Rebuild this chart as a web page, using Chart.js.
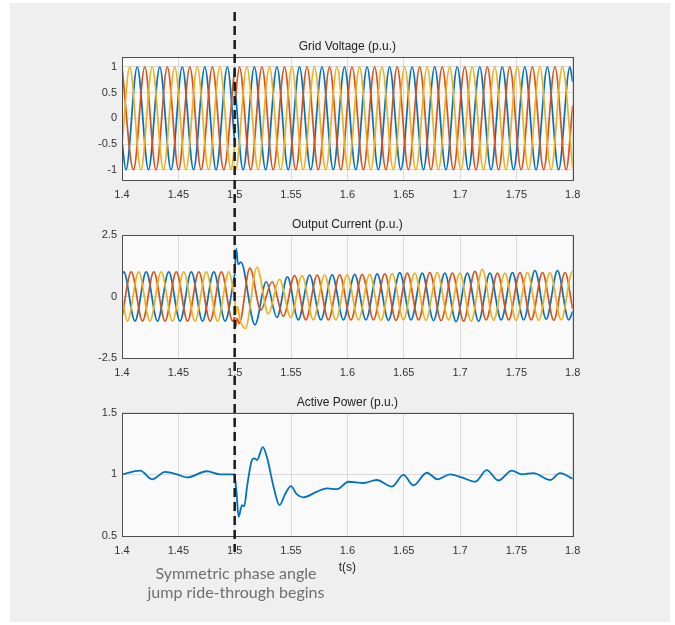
<!DOCTYPE html>
<html>
<head>
<meta charset="utf-8">
<script src="https://cdn.jsdelivr.net/npm/chart.js@4.4.1/dist/chart.umd.min.js"></script>
<style>
  html, body { margin: 0; padding: 0; background: #fff; }
  #frame { position: relative; width: 675px; height: 625px; overflow: hidden; }
  #panel { position: absolute; left: 10px; top: 3px; width: 660px; height: 619px; background: #efefef; }
  .plot { position: absolute; left: 0; width: 675px; }
  #note {
    position: absolute; left: 126px; width: 220px; top: 563px;
    text-align: center; font: 16px Lato, "Noto Sans", sans-serif;
    color: #6f6f6f; line-height: 19px;
  }
</style>
</head>
<body>
<div id="frame">
  <div id="panel"></div>
  <div class="plot" style="top:0;height:205px"><canvas id="voltage"></canvas></div>
  <div class="plot" style="top:205px;height:180px"><canvas id="current"></canvas></div>
  <div class="plot" style="top:385px;height:200px"><canvas id="power"></canvas></div>
  <div id="note">Symmetric phase angle<br>jump ride-through begins</div>
</div>
<script>
/* ============================================================
   Phase angle jump ride-through — three stacked panels
   ============================================================ */

// ── Axes ────────────────────────────────────────────────────

const xTicks = [1.4, 1.45, 1.5, 1.55, 1.6, 1.65, 1.7, 1.75, 1.8];
const voltageTicks = [-1, -0.5, 0, 0.5, 1];
const currentTicks = [-2.5, 0, 2.5];
const powerTicks = [0.5, 1, 1.5];
const jumpTime = 1.5;

// ── Grid voltage: turning points of each phase (s, p.u.) ────

const vBluePreT = [1.4, 1.4035, 1.4135, 1.4235, 1.4335, 1.4435, 1.4535, 1.4635, 1.4735, 1.4835, 1.4935, 1.5];
const vBluePreY = [-0.45, -1, 1, -1, 1, -1, 1, -1, 1, -1, 1, -0.45];
const vRedPreT = [1.4, 1.4102, 1.4202, 1.4302, 1.4402, 1.4502, 1.4602, 1.4702, 1.4802, 1.4902, 1.5];
const vRedPreY = [1, -1, 1, -1, 1, -1, 1, -1, 1, -1, 1];
const vYelPreT = [1.4, 1.4068, 1.4168, 1.4268, 1.4368, 1.4468, 1.4568, 1.4668, 1.4768, 1.4868, 1.4968, 1.5];
const vYelPreY = [-0.53, 1, -1, 1, -1, 1, -1, 1, -1, 1, -1, -0.54];

const vBluePostT = [1.5, 1.5075, 1.5175, 1.5275, 1.5375, 1.5475, 1.5575, 1.5675, 1.5775, 1.5875, 1.5975,
  1.6075, 1.6175, 1.6275, 1.6375, 1.6475, 1.6575, 1.6675, 1.6775, 1.6875, 1.6975,
  1.7075, 1.7175, 1.7275, 1.7375, 1.7475, 1.7575, 1.7675, 1.7775, 1.7875, 1.7975, 1.8];
const vBluePostY = [0.71, -1, 1, -1, 1, -1, 1, -1, 1, -1, 1, -1, 1, -1, 1, -1, 1, -1, 1, -1, 1,
  -1, 1, -1, 1, -1, 1, -1, 1, -1, 1, 0.71];
const vRedPostT = [1.5, 1.5042, 1.5142, 1.5242, 1.5342, 1.5442, 1.5542, 1.5642, 1.5742, 1.5842, 1.5942,
  1.6042, 1.6142, 1.6242, 1.6342, 1.6442, 1.6542, 1.6642, 1.6742, 1.6842, 1.6942,
  1.7042, 1.7142, 1.7242, 1.7342, 1.7442, 1.7542, 1.7642, 1.7742, 1.7842, 1.7942, 1.8];
const vRedPostY = [0.25, 1, -1, 1, -1, 1, -1, 1, -1, 1, -1, 1, -1, 1, -1, 1, -1, 1, -1, 1, -1,
  1, -1, 1, -1, 1, -1, 1, -1, 1, -1, 0.25];
const vYelPostT = [1.5, 1.5008, 1.5108, 1.5208, 1.5308, 1.5408, 1.5508, 1.5608, 1.5708, 1.5808, 1.5908,
  1.6008, 1.6108, 1.6208, 1.6308, 1.6408, 1.6508, 1.6608, 1.6708, 1.6808, 1.6908,
  1.7008, 1.7108, 1.7208, 1.7308, 1.7408, 1.7508, 1.7608, 1.7708, 1.7808, 1.7908, 1.8];
const vYelPostY = [-0.97, -1, 1, -1, 1, -1, 1, -1, 1, -1, 1, -1, 1, -1, 1, -1, 1, -1, 1, -1, 1,
  -1, 1, -1, 1, -1, 1, -1, 1, -1, 1, -0.97];

// ── Output current ──────────────────────────────────────────

const cBluePreT = [1.4, 1.4015, 1.4115, 1.4215, 1.4315, 1.4415, 1.4515, 1.4615, 1.4715, 1.4815, 1.4915, 1.5];
const cBluePreY = [0.9, 1, -1, 1, -1, 1, -1, 1, -1, 1, -1, 0.9];
const cRedPreT = [1.4, 1.4082, 1.4182, 1.4282, 1.4382, 1.4482, 1.4582, 1.4682, 1.4782, 1.4882, 1.4982, 1.5];
const cRedPreY = [-0.84, 1, -1, 1, -1, 1, -1, 1, -1, 1, -1, -0.84];
const cYelPreT = [1.4, 1.4048, 1.4148, 1.4248, 1.4348, 1.4448, 1.4548, 1.4648, 1.4748, 1.4848, 1.4948, 1.5];
const cYelPreY = [-0.06, -1, 1, -1, 1, -1, 1, -1, 1, -1, 1, -0.06];

const cBluePostT = [1.5, 1.5015, 1.503, 1.5055, 1.518, 1.528, 1.5375, 1.5468, 1.5565, 1.5665, 1.5765,
  1.5865, 1.5965, 1.6065, 1.6165, 1.6265, 1.6365, 1.6465, 1.6565, 1.6665, 1.6765,
  1.6865, 1.6965, 1.7065, 1.7165, 1.7265, 1.7365, 1.7465, 1.7565, 1.7665, 1.7765, 1.7865, 1.7965, 1.8];
const cBluePostY = [0.89, 1.95, 1.3, 1.4, -1.15, 0.6, -0.85, 0.8, -0.95, 0.87, -0.95,
  0.88, -0.95, 0.9, -0.95, 0.92, -0.97, 0.97, -0.95, 0.95, -0.98,
  0.95, -1.02, 0.95, -1.0, 0.95, -0.95, 0.97, -0.95, 1.05, -0.92, 1.05, -0.95, -0.6];
const cRedPostT = [1.5, 1.5008, 1.5022, 1.504, 1.5135, 1.5232, 1.5332, 1.5432, 1.5532, 1.5632, 1.5732,
  1.5832, 1.5932, 1.6032, 1.6132, 1.6232, 1.6332, 1.6432, 1.6532, 1.6632, 1.6732,
  1.6832, 1.6932, 1.7032, 1.7132, 1.7232, 1.7332, 1.7432, 1.7532, 1.7632, 1.7732, 1.7832, 1.7932, 1.8];
const cRedPostY = [-0.84, -1.25, -0.9, -1.1, 1.15, -0.55, 0.6, -0.8, 0.85, -0.95, 0.87,
  -0.95, 0.88, -0.95, 0.9, -0.95, 0.92, -0.97, 0.95, -0.95, 0.97,
  -0.98, 0.95, -1.0, 1.02, -0.95, 0.95, -0.95, 0.97, -0.95, 0.97, -0.97, 0.97, -0.5];
const cYelPostT = [1.5, 1.501, 1.5025, 1.5045, 1.5095, 1.5198, 1.5298, 1.5398, 1.5498, 1.5598, 1.5698,
  1.5798, 1.5898, 1.5998, 1.6098, 1.6198, 1.6298, 1.6398, 1.6498, 1.6598, 1.6698,
  1.6798, 1.6898, 1.6998, 1.7098, 1.7198, 1.7298, 1.7398, 1.7498, 1.7598, 1.7698, 1.7798, 1.7898, 1.7998, 1.8];
const cYelPostY = [-0.06, -0.7, -0.4, -0.9, -1.3, 1.19, -0.7, 0.7, -0.85, 0.85, -0.95,
  0.87, -0.95, 0.88, -0.95, 0.9, -0.97, 0.93, -0.95, 0.95, -0.97,
  0.97, -0.95, 0.95, -1.0, 1.1, -0.97, 0.95, -0.97, 0.97, -0.97, 0.97, -0.95, 1.02, 1.0];

// ── Active power ────────────────────────────────────────────

const powerT = [1.4, 1.4162, 1.4266, 1.4384, 1.4488, 1.4576, 1.4754, 1.4873, 1.4997, 1.5015, 1.5035,
  1.5065, 1.5085, 1.511, 1.5153, 1.5174, 1.5198, 1.525, 1.5286, 1.5345, 1.5398, 1.5448,
  1.5499, 1.555, 1.5611, 1.573, 1.582, 1.591, 1.601, 1.6143, 1.626, 1.6395, 1.6498,
  1.6587, 1.6705, 1.68, 1.6912, 1.7016, 1.7134, 1.7237, 1.734, 1.7459, 1.755, 1.7651,
  1.7799, 1.7887, 1.8];
const powerY = [1.0, 1.03, 0.96, 1.02, 1.0, 0.975, 1.025, 1.0, 1.0, 0.87, 0.656,
  0.75, 0.74, 0.9, 1.116, 1.13, 1.116, 1.22, 1.14, 0.9, 0.75, 0.84,
  0.905, 0.84, 0.814, 0.86, 0.886, 0.88, 0.94, 0.93, 0.954, 0.9, 0.995,
  0.91, 1.013, 0.96, 1.0, 0.975, 0.94, 1.035, 0.95, 1.03, 1.0, 1.01,
  0.954, 1.01, 0.965];

// ── Style ───────────────────────────────────────────────────

const FONT = '"Liberation Sans", Arial, sans-serif';
const BLUE = "#0072BD";
const RED = "#D95319";
const YELLOW = "#EDB120";
const MARKER_TOP = 12;      // page y where the dashed marker starts
const MARKER_BOTTOM = 552;  // page y where it ends

// ── Plugins ─────────────────────────────────────────────────

const axesBox = {
  id: "axesBox",
  beforeDraw(chart) {
    const { ctx, chartArea: a } = chart;
    ctx.save();
    ctx.fillStyle = "#fafafa";
    ctx.fillRect(a.left, a.top, a.right - a.left, a.bottom - a.top);
    ctx.restore();
  },
  afterDatasetsDraw(chart) {
    const { ctx, chartArea: a } = chart;
    ctx.save();
    ctx.strokeStyle = "#4d4d4d";
    ctx.lineWidth = 1;
    ctx.strokeRect(Math.round(a.left) + 0.5, Math.round(a.top) + 0.5,
      Math.round(a.right - a.left), Math.round(a.bottom - a.top));
    ctx.restore();
  },
};

const jumpMarker = {
  id: "jumpMarker",
  afterDraw(chart) {
    const { ctx } = chart;
    const offTop = chart.canvas.parentNode.offsetTop;
    const from = Math.max(0, MARKER_TOP - offTop);
    const to = Math.min(chart.height, MARKER_BOTTOM - offTop);
    if (to <= from) return;
    const x = chart.scales.x.getPixelForValue(jumpTime);
    ctx.save();
    ctx.strokeStyle = "#1a1a1a";
    ctx.lineWidth = 2.5;
    ctx.setLineDash([9, 5]);
    ctx.lineDashOffset = offTop + from - MARKER_TOP;
    ctx.beginPath();
    ctx.moveTo(x, from);
    ctx.lineTo(x, to);
    ctx.stroke();
    ctx.restore();
  },
};

// ── Helpers ─────────────────────────────────────────────────

function trace(t, y, color, order, width = 1.7) {
  return {
    data: t.map((x, i) => ({ x, y: y[i] })),
    borderColor: color,
    borderWidth: width,
    pointRadius: 0,
    cubicInterpolationMode: "monotone",
    fill: false,
    order,
  };
}

function fmt(v) {
  return String(+v.toFixed(2));
}

// The panel title is the title of an empty top x axis, so it is centred over the axes box
function buildPanel(id, cfg) {
  return new Chart(document.getElementById(id), {
    type: "line",
    data: { datasets: cfg.datasets },
    plugins: [axesBox, jumpMarker],
    options: {
      responsive: true,
      maintainAspectRatio: false,
      animation: false,
      events: [],
      layout: { padding: { top: cfg.padTop, right: 102.3, bottom: 0, left: 0 } },
      plugins: {
        legend: { display: false },
        tooltip: { enabled: false },
      },
      scales: {
        x: {
          type: "linear",
          min: 1.4,
          max: 1.8,
          afterBuildTicks: s => { s.ticks = xTicks.map(v => ({ value: v })); },
          afterFit: s => { s.height = cfg.xHeight; },
          grid: { color: "#dadada", drawTicks: false },
          border: { display: false },
          ticks: { color: "#333", padding: 8, font: { family: FONT, size: 11 }, callback: fmt },
          title: {
            display: !!cfg.xTitle,
            text: cfg.xTitle || "",
            color: "#222",
            font: { family: FONT, size: 12 },
            padding: { top: 0, bottom: 10 },
          },
        },
        top: {
          type: "linear",
          position: "top",
          min: 1.4,
          max: 1.8,
          afterFit: s => { s.height = 17.4; },
          grid: { display: false },
          border: { display: false },
          ticks: { display: false },
          title: {
            display: true,
            text: cfg.title,
            color: "#222",
            font: { family: FONT, size: 12 },
            padding: { top: 0, bottom: 3 },
          },
        },
        y: {
          min: cfg.yMin,
          max: cfg.yMax,
          afterBuildTicks: s => { s.ticks = cfg.yTicks.map(v => ({ value: v })); },
          afterFit: s => { s.width = 122; },
          grid: { color: "#dadada", drawTicks: false },
          border: { display: false },
          ticks: { color: "#333", padding: 5, font: { family: FONT, size: 11 }, callback: fmt },
        },
      },
    },
  });
}

// ── Panels ──────────────────────────────────────────────────

buildPanel("voltage", {
  title: "Grid Voltage (p.u.)",
  yMin: -1.2, yMax: 1.2, yTicks: voltageTicks,
  padTop: 39.3, xHeight: 25,
  datasets: [
    trace(vBluePreT, vBluePreY, BLUE, 3), trace(vBluePostT, vBluePostY, BLUE, 3),
    trace(vRedPreT, vRedPreY, RED, 2), trace(vRedPostT, vRedPostY, RED, 2),
    trace(vYelPreT, vYelPreY, YELLOW, 1), trace(vYelPostT, vYelPostY, YELLOW, 1),
  ],
});

buildPanel("current", {
  title: "Output Current (p.u.)",
  yMin: -2.5, yMax: 2.5, yTicks: currentTicks,
  padTop: 12.6, xHeight: 27,
  datasets: [
    trace(cBluePreT, cBluePreY, BLUE, 3), trace(cBluePostT, cBluePostY, BLUE, 3),
    trace(cRedPreT, cRedPreY, RED, 2), trace(cRedPostT, cRedPostY, RED, 2),
    trace(cYelPreT, cYelPreY, YELLOW, 1), trace(cYelPostT, cYelPostY, YELLOW, 1),
  ],
});

buildPanel("power", {
  title: "Active Power (p.u.)",
  yMin: 0.5, yMax: 1.5, yTicks: powerTicks,
  padTop: 10.3, xHeight: 49, xTitle: "t(s)",
  datasets: [trace(powerT, powerY, BLUE, 1, 1.8)],
});
</script>
</body>
</html>
